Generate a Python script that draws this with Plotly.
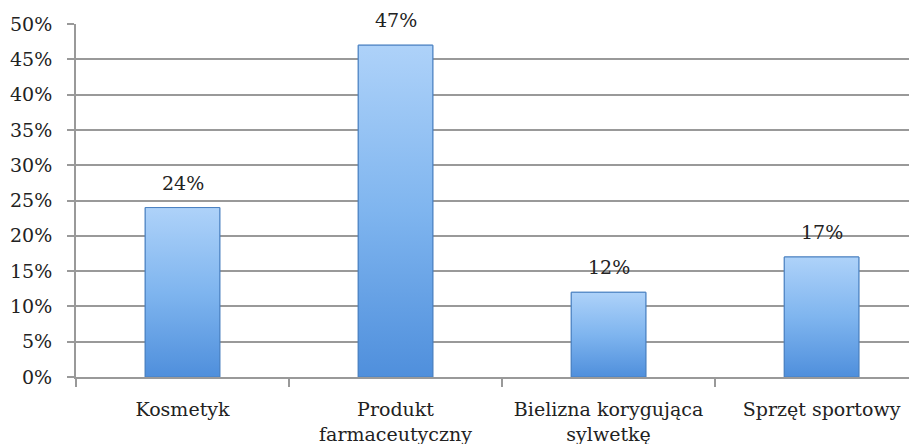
import plotly.graph_objects as go

# dane z wykresu
kategorie = ["Kosmetyk", "Produkt<br>farmaceutyczny", "Bielizna korygująca<br>sylwetkę", "Sprzęt sportowy"]
wartosci = [0.24, 0.47, 0.12, 0.17]
etykiety = ["24%", "47%", "12%", "17%"]
y_ticks = [0, 0.05, 0.10, 0.15, 0.20, 0.25, 0.30, 0.35, 0.40, 0.45, 0.50]

FONT = "DejaVu Serif"
GRID = "#999999"
SZEROKOSC = 0.35
X_RANGE = [-0.5, 3.448]

fig = go.Figure()

# slupki (kolor bazowy)
fig.add_trace(
    go.Bar(
        x=kategorie,
        y=wartosci,
        width=SZEROKOSC,
        marker=dict(color="#7db3ee", line=dict(color="#4a80c0", width=1)),
        hoverinfo="skip",
    )
)

# gradient na slupkach (os pomocnicza, numeryczna)
for i, val in enumerate(wartosci):
    x0, x1 = i - SZEROKOSC / 2, i + SZEROKOSC / 2
    fig.add_trace(
        go.Scatter(
            x=[x0, x1, x1, x0, x0],
            y=[0, 0, val, val, 0],
            xaxis="x2",
            mode="lines",
            fill="toself",
            fillgradient=dict(
                type="vertical",
                colorscale=[[0, "#4f8fdc"], [0.5, "#7fb5ef"], [1, "#aed2f9"]],
            ),
            line=dict(color="#4a80c0", width=1),
            hoverinfo="skip",
        )
    )

# etykiety nad slupkami
for kat, val, lab in zip(kategorie, wartosci, etykiety):
    fig.add_annotation(
        x=kat,
        y=val,
        text=lab,
        showarrow=False,
        yanchor="bottom",
        yshift=12,
        font=dict(family=FONT, size=19, color="#222222"),
    )

# strona ma 8 px marginesu body, wiec figura jest o 8 px mniejsza
fig.update_layout(
    width=909,
    height=436,
    paper_bgcolor="white",
    plot_bgcolor="white",
    showlegend=False,
    margin=dict(t=16, r=0, b=67, l=68),
    font=dict(family=FONT, size=19, color="#222222"),
    xaxis2=dict(overlaying="x", range=X_RANGE, visible=False),
)

fig.update_xaxes(
    range=X_RANGE,
    showgrid=False,
    showline=True,
    linecolor=GRID,
    linewidth=2,
    ticks="outside",
    tickson="boundaries",
    ticklen=8,
    tickwidth=2,
    tickcolor=GRID,
    ticklabelstandoff=14,
    automargin=False,
    selector=dict(overlaying=None),
)
fig.layout.xaxis2.update(range=X_RANGE, visible=False, automargin=False)

fig.update_yaxes(
    range=[0, 0.5],
    tickvals=y_ticks,
    tickformat=".0%",
    showgrid=True,
    gridcolor=GRID,
    gridwidth=2,
    showline=True,
    linecolor=GRID,
    linewidth=2,
    ticks="outside",
    ticklen=7,
    tickwidth=2,
    tickcolor=GRID,
    ticklabelstandoff=11,
    zeroline=False,
    automargin=False,
)

fig.write_html("out.html")
